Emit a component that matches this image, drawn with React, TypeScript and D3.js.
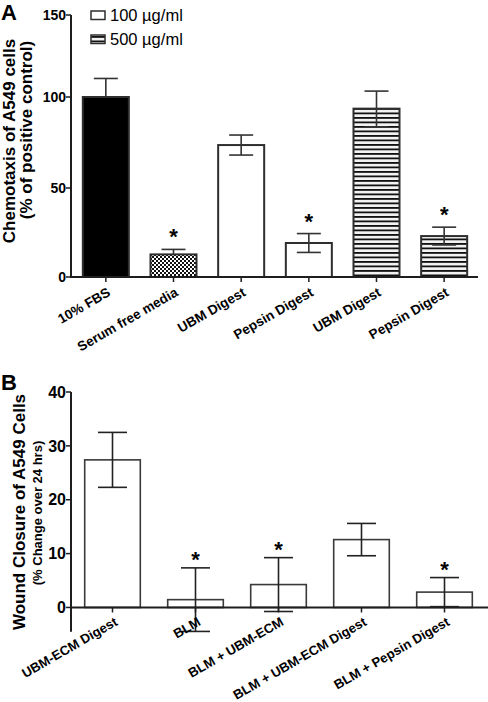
import React from "react";
import * as d3 from "d3";

const catsA = ["10% FBS", "Serum free media", "UBM Digest", "Pepsin Digest", "UBM Digest", "Pepsin Digest"];
const valsA = [100, 12.7, 73.6, 19.1, 93.6, 23.0];
const semA = [11.3, 2.8, 5.5, 5.3, 10.0, 5.0];
const fillA = ["solid", "checker", "open", "open", "stripe", "stripe"];
const sigA = [false, true, false, true, false, true];
const ticksA = [0, 50, 100, 150];
const legendLabels = ["100 µg/ml", "500 µg/ml"];
const legendFills = ["open", "stripe"];

const catsB = ["UBM-ECM Digest", "BLM", "BLM + UBM-ECM", "BLM + UBM-ECM Digest", "BLM + Pepsin Digest"];
const valsB = [27.4, 1.45, 4.25, 12.6, 2.85];
const semB = [5.1, 5.9, 5.0, 3.0, 2.7];
const sigB = [false, true, true, false, true];
const ticksB = [0, 10, 20, 30, 40];

const FONT = "'Liberation Sans', Arial, Helvetica, sans-serif";
const AX = "#1e1e1e";
const BAR = "#2e2e2e";

const fillUrl = (k: string) =>
  k === "solid" ? "#000" : k === "checker" ? "url(#checker)" : k === "stripe" ? "url(#stripe)" : "#fff";

export default function App() {
  const xA = d3.scaleBand<number>().domain(d3.range(catsA.length)).range([72, 478]).paddingInner(0.32).paddingOuter(0.16);
  const yA = d3.scaleLinear().domain([0, 50, 100, 150]).range([277, 188, 97, 15]);
  const xB = d3.scaleBand<number>().domain(d3.range(catsB.length)).range([71, 486]).paddingInner(0.33).paddingOuter(0.165);
  const yB = d3.scaleLinear().domain([-4.5, 40]).range([631.7, 392]);

  const capA = 12;
  const capB = 14.5;

  return (
    <svg width={488} height={702} style={{ position: "absolute", left: 0, top: 0, background: "#fff" }} fontFamily={FONT}>
      <defs>
        <pattern id="checker" patternUnits="userSpaceOnUse" width={4} height={4}>
          <rect width={4} height={4} fill="#fff" />
          <rect width={2} height={2} fill="#111" />
          <rect x={2} y={2} width={2} height={2} fill="#111" />
        </pattern>
        <pattern id="stripe" patternUnits="userSpaceOnUse" width={8} height={4.5}>
          <rect width={8} height={4.5} fill="#f2f2f2" />
          <rect y={0} width={8} height={1.8} fill="#111" />
        </pattern>
      </defs>

      {/* ---------- Panel A ---------- */}
      <text x={1} y={20} fontSize={22} fontWeight="bold">A</text>
      <g transform="translate(15,141) rotate(-90)">
        <text x={0} y={0} textAnchor="middle" fontSize={17} fontWeight="bold">Chemotaxis of A549 cells</text>
      </g>
      <g transform="translate(32,130) rotate(-90)">
        <text x={0} y={0} textAnchor="middle" fontSize={17} fontWeight="bold">(% of positive control)</text>
      </g>

      {valsA.map((v, i) => (
        <rect key={"ba" + i} x={xA(i)} y={yA(v)} width={xA.bandwidth()} height={yA(0) - yA(v)}
          fill={fillUrl(fillA[i])} stroke={BAR} strokeWidth={2} />
      ))}
      {valsA.map((v, i) => {
        const cx = xA(i)! + xA.bandwidth() / 2;
        const upOnly = fillA[i] === "solid" || fillA[i] === "checker";
        const lo = upOnly ? v : v - semA[i];
        const hi = v + semA[i];
        return (
          <g key={"ea" + i} stroke="#333" strokeWidth={1.6}>
            <line x1={cx} x2={cx} y1={yA(lo)} y2={yA(hi)} />
            <line x1={cx - capA} x2={cx + capA} y1={yA(hi)} y2={yA(hi)} />
            {!upOnly && <line x1={cx - capA} x2={cx + capA} y1={yA(lo)} y2={yA(lo)} />}
          </g>
        );
      })}
      {valsA.map((v, i) =>
        sigA[i] ? (
          <text key={"sa" + i} x={xA(i)! + xA.bandwidth() / 2} y={yA(v + semA[i]) - 5} textAnchor="middle" fontSize={22} fontWeight="bold">*</text>
        ) : null
      )}

      <line x1={71} x2={71} y1={yA(150)} y2={yA(0) + 1} stroke={AX} strokeWidth={2} />
      <line x1={70} x2={478} y1={yA(0)} y2={yA(0)} stroke={AX} strokeWidth={2} />
      {ticksA.map((t) => (
        <g key={"ta" + t}>
          <line x1={66} x2={71} y1={yA(t)} y2={yA(t)} stroke={AX} strokeWidth={1.5} />
          <text x={66} y={yA(t)} dy="0.36em" textAnchor="end" fontSize={14} fontWeight="bold">{t}</text>
        </g>
      ))}
      {catsA.map((c, i) => {
        const cx = xA(i)! + xA.bandwidth() / 2;
        return (
          <g key={"xa" + i}>
            <line x1={cx} x2={cx} y1={yA(0)} y2={yA(0) + 5} stroke={AX} strokeWidth={1.5} />
            <g transform={`translate(${cx + 5.5},${yA(0) + 18}) rotate(-30)`}>
              <text x={0} y={0} textAnchor="end" fontSize={13.5} fontWeight="bold">{c}</text>
            </g>
          </g>
        );
      })}

      {legendLabels.map((l, i) => (
        <g key={"lg" + i}>
          <rect x={91} y={11 + i * 24} width={14} height={8.5} fill={fillUrl(legendFills[i])} stroke={BAR} strokeWidth={1.5} />
          <text x={110} y={21 + i * 24} fontSize={16.5}>{l}</text>
        </g>
      ))}

      {/* ---------- Panel B ---------- */}
      <text x={1} y={390} fontSize={22} fontWeight="bold">B</text>
      <g transform="translate(25,512) rotate(-90)">
        <text x={0} y={0} textAnchor="middle" fontSize={17} fontWeight="bold">Wound Closure of A549 Cells</text>
      </g>
      <g transform="translate(42,513) rotate(-90)">
        <text x={0} y={0} textAnchor="middle" fontSize={13} fontWeight="bold">(% Change over 24 hrs)</text>
      </g>

      {valsB.map((v, i) => (
        <rect key={"bb" + i} x={xB(i)} y={yB(Math.max(v, 0))} width={xB.bandwidth()} height={Math.abs(yB(0) - yB(v))}
          fill="#fff" stroke="#3a3a3a" strokeWidth={1.6} />
      ))}
      {valsB.map((v, i) => {
        const cx = xB(i)! + xB.bandwidth() / 2;
        const lo = v - semB[i];
        const hi = v + semB[i];
        return (
          <g key={"eb" + i} stroke="#222" strokeWidth={1.6}>
            <line x1={cx} x2={cx} y1={yB(lo)} y2={yB(hi)} />
            <line x1={cx - capB} x2={cx + capB} y1={yB(hi)} y2={yB(hi)} />
            <line x1={cx - capB} x2={cx + capB} y1={yB(lo)} y2={yB(lo)} />
          </g>
        );
      })}
      {valsB.map((v, i) =>
        sigB[i] ? (
          <text key={"sb" + i} x={xB(i)! + xB.bandwidth() / 2} y={yB(v + semB[i]) - 1} textAnchor="middle" fontSize={22} fontWeight="bold">*</text>
        ) : null
      )}

      <line x1={71} x2={71} y1={yB(40)} y2={yB(-4.5)} stroke={AX} strokeWidth={2} />
      <line x1={70} x2={488} y1={yB(0)} y2={yB(0)} stroke={AX} strokeWidth={2} />
      {ticksB.map((t) => (
        <g key={"tb" + t}>
          <line x1={66} x2={71} y1={yB(t)} y2={yB(t)} stroke={AX} strokeWidth={1.5} />
          <text x={66} y={yB(t)} dy="0.36em" textAnchor="end" fontSize={16} fontWeight="bold">{t}</text>
        </g>
      ))}
      {catsB.map((c, i) => {
        const cx = xB(i)! + xB.bandwidth() / 2;
        return (
          <g key={"xb" + i}>
            <line x1={cx} x2={cx} y1={yB(0)} y2={yB(0) + 5} stroke={AX} strokeWidth={1.5} />
            <g transform={`translate(${cx + 6},${yB(0) + 17}) rotate(-30)`}>
              <text x={0} y={0} textAnchor="end" fontSize={13.2} fontWeight="bold">{c}</text>
            </g>
          </g>
        );
      })}
    </svg>
  );
}
